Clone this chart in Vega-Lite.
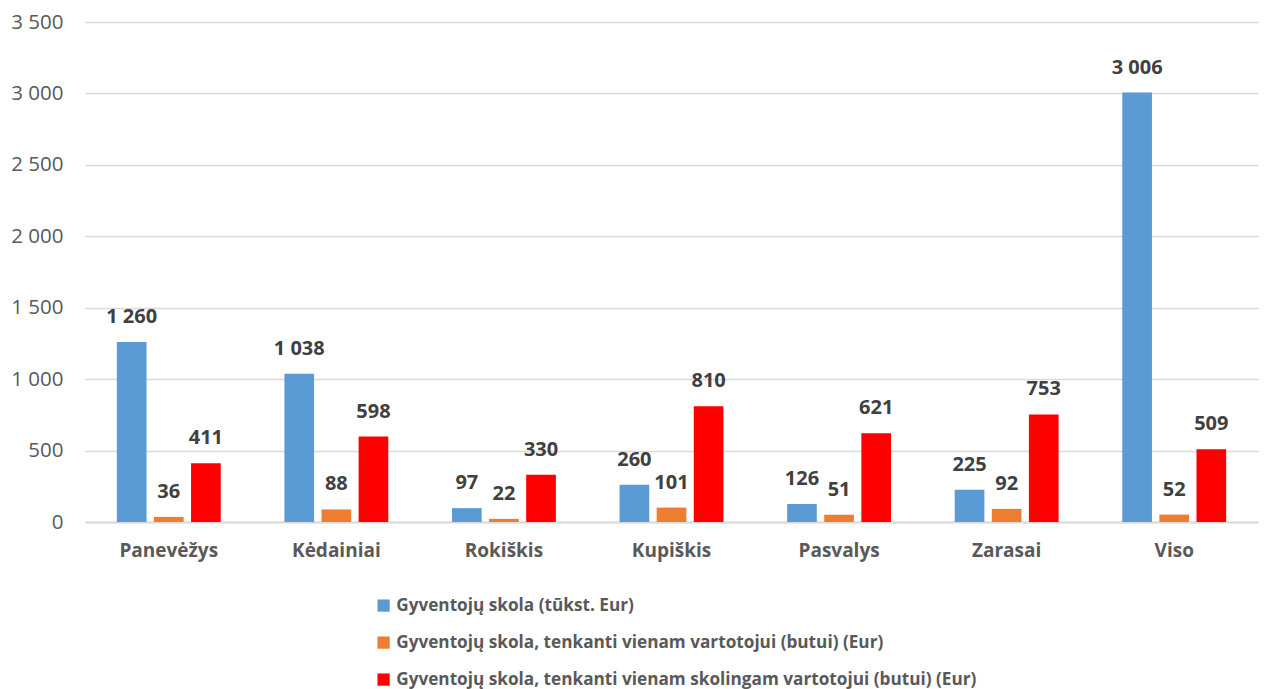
{
  "$schema": "https://vega.github.io/schema/vega-lite/v6.json",
  "width": 1173,
  "height": 500,
  "autosize": {"type": "none"},
  "padding": {"left": 85, "top": 22, "right": 7, "bottom": 167},
  "background": "white",
  "config": {
    "font": "Open Sans",
    "view": {"stroke": null},
    "locale": {"number": {"decimal": ",", "thousands": " ", "grouping": [3], "currency": ["", " €"]}}
  },
  "data": {
    "values": [
      {"miestas": "Panevėžys", "serija": "Gyventojų skola (tūkst. Eur)", "reiksme": 1260},
      {"miestas": "Panevėžys", "serija": "Gyventojų skola, tenkanti vienam vartotojui (butui) (Eur)", "reiksme": 36},
      {"miestas": "Panevėžys", "serija": "Gyventojų skola, tenkanti vienam skolingam vartotojui (butui) (Eur)", "reiksme": 411},
      {"miestas": "Kėdainiai", "serija": "Gyventojų skola (tūkst. Eur)", "reiksme": 1038},
      {"miestas": "Kėdainiai", "serija": "Gyventojų skola, tenkanti vienam vartotojui (butui) (Eur)", "reiksme": 88},
      {"miestas": "Kėdainiai", "serija": "Gyventojų skola, tenkanti vienam skolingam vartotojui (butui) (Eur)", "reiksme": 598},
      {"miestas": "Rokiškis", "serija": "Gyventojų skola (tūkst. Eur)", "reiksme": 97},
      {"miestas": "Rokiškis", "serija": "Gyventojų skola, tenkanti vienam vartotojui (butui) (Eur)", "reiksme": 22},
      {"miestas": "Rokiškis", "serija": "Gyventojų skola, tenkanti vienam skolingam vartotojui (butui) (Eur)", "reiksme": 330},
      {"miestas": "Kupiškis", "serija": "Gyventojų skola (tūkst. Eur)", "reiksme": 260},
      {"miestas": "Kupiškis", "serija": "Gyventojų skola, tenkanti vienam vartotojui (butui) (Eur)", "reiksme": 101},
      {"miestas": "Kupiškis", "serija": "Gyventojų skola, tenkanti vienam skolingam vartotojui (butui) (Eur)", "reiksme": 810},
      {"miestas": "Pasvalys", "serija": "Gyventojų skola (tūkst. Eur)", "reiksme": 126},
      {"miestas": "Pasvalys", "serija": "Gyventojų skola, tenkanti vienam vartotojui (butui) (Eur)", "reiksme": 51},
      {"miestas": "Pasvalys", "serija": "Gyventojų skola, tenkanti vienam skolingam vartotojui (butui) (Eur)", "reiksme": 621},
      {"miestas": "Zarasai", "serija": "Gyventojų skola (tūkst. Eur)", "reiksme": 225},
      {"miestas": "Zarasai", "serija": "Gyventojų skola, tenkanti vienam vartotojui (butui) (Eur)", "reiksme": 92},
      {"miestas": "Zarasai", "serija": "Gyventojų skola, tenkanti vienam skolingam vartotojui (butui) (Eur)", "reiksme": 753},
      {"miestas": "Viso", "serija": "Gyventojų skola (tūkst. Eur)", "reiksme": 3006},
      {"miestas": "Viso", "serija": "Gyventojų skola, tenkanti vienam vartotojui (butui) (Eur)", "reiksme": 52},
      {"miestas": "Viso", "serija": "Gyventojų skola, tenkanti vienam skolingam vartotojui (butui) (Eur)", "reiksme": 509}
    ]
  },
  "encoding": {
    "x": {
      "field": "miestas",
      "type": "nominal",
      "sort": null,
      "scale": {"paddingInner": 0.38, "paddingOuter": 0.19},
      "axis": {
        "title": null,
        "labelAngle": 0,
        "labelFontSize": 19,
        "labelFontWeight": "bold",
        "labelColor": "#595959",
        "labelPadding": 19,
        "ticks": false,
        "domain": true,
        "domainColor": "#d9d9d9",
        "domainWidth": 2
      }
    },
    "xOffset": {
      "field": "serija",
      "type": "nominal",
      "sort": null,
      "scale": {"paddingInner": 0.2, "paddingOuter": 0}
    },
    "y": {
      "field": "reiksme",
      "type": "quantitative",
      "scale": {"domain": [0, 3500], "nice": false},
      "axis": {
        "title": null,
        "values": [0, 500, 1000, 1500, 2000, 2500, 3000, 3500],
        "format": ",.0f",
        "labelFontSize": 20.5,
        "labelColor": "#595959",
        "labelPadding": 22,
        "ticks": false,
        "domain": false,
        "gridColor": "#d9d9d9",
        "gridWidth": 1.5
      }
    }
  },
  "layer": [
    {
      "mark": {"type": "bar"},
      "encoding": {
        "color": {
          "field": "serija",
          "type": "nominal",
          "sort": null,
          "scale": {
            "domain": [
              "Gyventojų skola (tūkst. Eur)",
              "Gyventojų skola, tenkanti vienam vartotojui (butui) (Eur)",
              "Gyventojų skola, tenkanti vienam skolingam vartotojui (butui) (Eur)"
            ],
            "range": ["#5B9BD5", "#ED7D31", "#FF0000"]
          },
          "legend": {
            "title": null,
            "orient": "none",
            "direction": "vertical",
            "legendX": 290,
            "legendY": 575,
            "symbolType": "square",
            "symbolSize": 150,
            "symbolStrokeWidth": 0,
            "labelFontSize": 17.2,
            "labelFontWeight": "bold",
            "labelColor": "#595959",
            "labelLimit": 900,
            "rowPadding": 19,
            "labelOffset": 4
          }
        }
      }
    },
    {
      "mark": {"type": "text", "fontSize": 20, "fontWeight": "bold", "color": "#404040", "dy": -25, "baseline": "middle"},
      "encoding": {
        "text": {"field": "reiksme", "type": "quantitative", "format": ","}
      }
    }
  ]
}
